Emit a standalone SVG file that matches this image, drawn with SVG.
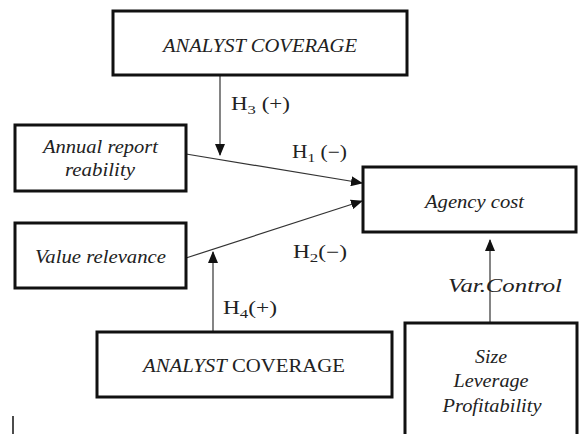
<svg xmlns="http://www.w3.org/2000/svg" width="580" height="434" viewBox="0 0 580 434">
<defs>
<style>
.box{fill:#fff;stroke:#111;stroke-width:3}
.con{stroke:#333;stroke-width:1.2;fill:none}
</style>
<marker id="ah" markerWidth="12" markerHeight="10" refX="11" refY="5" orient="auto" markerUnits="userSpaceOnUse">
<path d="M0,0 L12,5 L0,10 Z" fill="#111"/>
</marker>
</defs>
<rect width="580" height="434" fill="#fff"/>
<g id="connectors">
<line class="con" x1="220" y1="76" x2="220" y2="155" marker-end="url(#ah)"/>
<line class="con" x1="186" y1="154" x2="362" y2="183" marker-end="url(#ah)"/>
<line class="con" x1="186" y1="258" x2="362" y2="201" marker-end="url(#ah)"/>
<line class="con" x1="213" y1="331" x2="213" y2="252" marker-end="url(#ah)"/>
<line class="con" x1="490" y1="322" x2="490" y2="240" marker-end="url(#ah)"/>
</g>
<g id="labels" font-family="Liberation Serif, DejaVu Serif, serif" font-size="18" fill="#222">
<text x="231" y="110" textLength="59" lengthAdjust="spacingAndGlyphs">H<tspan font-size="13" dy="4">3</tspan><tspan dy="-4"> (+)</tspan></text>
<text x="292" y="158" textLength="55" lengthAdjust="spacingAndGlyphs">H<tspan font-size="13" dy="4">1</tspan><tspan dy="-4"> (−)</tspan></text>
<text x="293" y="258" textLength="54" lengthAdjust="spacingAndGlyphs">H<tspan font-size="13" dy="4">2</tspan><tspan dy="-4">(−)</tspan></text>
<text x="223" y="314" textLength="54" lengthAdjust="spacingAndGlyphs">H<tspan font-size="13" dy="4">4</tspan><tspan dy="-4">(+)</tspan></text>
<text x="448" y="292" font-size="19" font-style="italic" textLength="114" lengthAdjust="spacingAndGlyphs">Var.Control</text>
</g>
<g id="analyst-top" font-family="Liberation Serif, DejaVu Serif, serif" fill="#222" text-anchor="middle" font-style="italic">
<rect class="box" x="113" y="11" width="294" height="64"/>
<text x="260" y="52" font-size="19" textLength="194" lengthAdjust="spacingAndGlyphs">ANALYST COVERAGE</text>
</g>
<g id="annual-report" font-family="Liberation Serif, DejaVu Serif, serif" font-size="18.5" fill="#222" text-anchor="middle" font-style="italic">
<rect class="box" x="15" y="125" width="171" height="66"/>
<text x="100.5" y="153" textLength="115" lengthAdjust="spacingAndGlyphs">Annual report</text>
<text x="100" y="176" textLength="70" lengthAdjust="spacingAndGlyphs">reability</text>
</g>
<g id="value-relevance" font-family="Liberation Serif, DejaVu Serif, serif" font-size="18.5" fill="#222" text-anchor="middle" font-style="italic">
<rect class="box" x="15" y="223" width="171" height="65"/>
<text x="100.5" y="263" textLength="131" lengthAdjust="spacingAndGlyphs">Value relevance</text>
</g>
<g id="agency-cost" font-family="Liberation Serif, DejaVu Serif, serif" font-size="18.5" fill="#222" text-anchor="middle" font-style="italic">
<rect class="box" x="363" y="167" width="213" height="65"/>
<text x="474.5" y="208" textLength="99" lengthAdjust="spacingAndGlyphs">Agency cost</text>
</g>
<g id="analyst-bottom" font-family="Liberation Serif, DejaVu Serif, serif" font-size="19" fill="#222" text-anchor="middle">
<rect class="box" x="97" y="332" width="295" height="65"/>
<text x="244" y="372" textLength="202" lengthAdjust="spacingAndGlyphs"><tspan font-style="italic">ANALYST</tspan> COVERAGE</text>
</g>
<g id="controls" font-family="Liberation Serif, DejaVu Serif, serif" font-size="18.5" fill="#222" text-anchor="middle" font-style="italic">
<rect class="box" x="405" y="323" width="172" height="120"/>
<text x="491" y="363" textLength="32" lengthAdjust="spacingAndGlyphs">Size</text>
<text x="491" y="387" textLength="75" lengthAdjust="spacingAndGlyphs">Leverage</text>
<text x="492" y="412" textLength="99" lengthAdjust="spacingAndGlyphs">Profitability</text>
</g>
<line x1="13" y1="416" x2="13" y2="434" stroke="#111" stroke-width="1.5"/>
</svg>
